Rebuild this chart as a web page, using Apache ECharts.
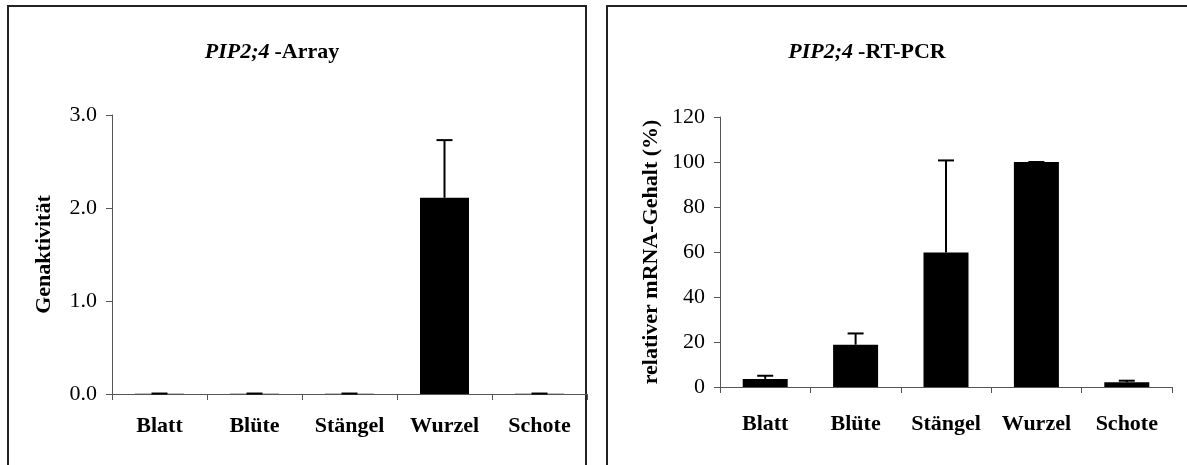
<!DOCTYPE html>
<html>
<head>
<meta charset="utf-8">
<script src="https://cdn.jsdelivr.net/npm/echarts@6/dist/echarts.min.js"></script>
<style>
  html, body { margin: 0; padding: 0; background: #fff; }
  #chart { width: 1187px; height: 465px; }
</style>
</head>
<body>
<div id="chart"></div>
<script>
// Tissues
const categories = ['Blatt', 'Blüte', 'Stängel', 'Wurzel', 'Schote'];

// Microarray gene activity (mean and error)
const arrayValues = [0.002, 0.002, 0.002, 2.11, 0.002];
const arrayErrors = [0.003, 0.003, 0.003, 0.62, 0.003];

// RT-PCR relative mRNA content in % (mean and error)
const pcrValues = [3.6, 18.8, 59.8, 100, 2.1];
const pcrErrors = [1.4, 5.0, 40.9, 0, 0.7];

// Axis ranges
const arrayAxis = { min: 0, max: 3, interval: 1 };
const pcrAxis = { min: 0, max: 120, interval: 20 };

const SERIF = '"Liberation Serif", "Times New Roman", serif';
const AXIS_COLOR = '#555';
const FRAME_COLOR = '#222';
const FS = 22;

function errorSeries(values, errors, idx) {
  return {
    type: 'custom',
    xAxisIndex: idx,
    yAxisIndex: idx,
    clip: false,
    z: 5,
    data: values.map((v, i) => [i, v, v + errors[i]]),
    renderItem: function (params, api) {
      const base = api.coord([api.value(0), api.value(1)]);
      const top = api.coord([api.value(0), api.value(2)]);
      const half = 8;
      const style = { stroke: '#000', lineWidth: 2 };
      return {
        type: 'group',
        children: [
          { type: 'line', shape: { x1: base[0], y1: base[1], x2: top[0], y2: top[1] }, style: style },
          { type: 'line', shape: { x1: top[0] - half, y1: top[1], x2: top[0] + half, y2: top[1] }, style: style }
        ]
      };
    }
  };
}

function catAxis(idx, margin) {
  return {
    type: 'category',
    gridIndex: idx,
    data: categories,
    axisLine: { lineStyle: { color: AXIS_COLOR, width: 1 } },
    axisTick: { show: true, length: 6, lineStyle: { color: AXIS_COLOR } },
    axisLabel: { fontFamily: SERIF, fontWeight: 'bold', fontSize: FS, color: '#000', margin: margin, interval: 0 }
  };
}

function valAxis(idx, range, name, nameGap, digits) {
  return {
    type: 'value',
    gridIndex: idx,
    min: range.min,
    max: range.max,
    interval: range.interval,
    name: name,
    nameLocation: 'middle',
    nameRotate: 90,
    nameGap: nameGap,
    nameTextStyle: { fontFamily: SERIF, fontWeight: 'bold', fontSize: FS, color: '#000' },
    axisLine: { show: true, lineStyle: { color: AXIS_COLOR, width: 1 } },
    axisTick: { show: true, length: 6, lineStyle: { color: AXIS_COLOR } },
    splitLine: { show: false },
    axisLabel: {
      fontFamily: SERIF, fontSize: FS, color: '#000', margin: 15,
      formatter: v => v.toFixed(digits)
    }
  };
}

function titleRich() {
  return {
    i: { fontFamily: SERIF, fontStyle: 'italic', fontWeight: 'bold', fontSize: FS, color: '#000' },
    b: { fontFamily: SERIF, fontWeight: 'bold', fontSize: FS, color: '#000' }
  };
}

const chart = echarts.init(document.getElementById('chart'), null, { renderer: 'canvas' });

chart.setOption({
  backgroundColor: '#fff',
  animation: false,
  title: [
    { text: '{i|PIP2;4} {b|-Array}', left: 267, top: 36, textAlign: 'center', textStyle: { rich: titleRich() } },
    { text: '{i|PIP2;4} {b|-RT-PCR}', left: 862, top: 36, textAlign: 'center', textStyle: { rich: titleRich() } }
  ],
  graphic: [
    { type: 'rect', shape: { x: 8, y: 6, width: 578, height: 500 }, style: { fill: null, stroke: FRAME_COLOR, lineWidth: 2 }, z: -1 },
    { type: 'rect', shape: { x: 607, y: 6, width: 600, height: 500 }, style: { fill: null, stroke: FRAME_COLOR, lineWidth: 2 }, z: -1 }
  ],
  grid: [
    { left: 112, right: 600, top: 115, bottom: 71 },
    { left: 720, right: 15, top: 117, bottom: 78 }
  ],
  xAxis: [catAxis(0, 21), catAxis(1, 26)],
  yAxis: [
    valAxis(0, arrayAxis, 'Genaktivität', 57, 1),
    valAxis(1, pcrAxis, 'relativer mRNA-Gehalt (%)', 58, 0)
  ],
  series: [
    { type: 'bar', xAxisIndex: 0, yAxisIndex: 0, data: arrayValues, barWidth: 49, itemStyle: { color: '#000' } },
    errorSeries(arrayValues, arrayErrors, 0),
    { type: 'bar', xAxisIndex: 1, yAxisIndex: 1, data: pcrValues, barWidth: 45, itemStyle: { color: '#000' } },
    errorSeries(pcrValues, pcrErrors, 1)
  ]
});
</script>
</body>
</html>
